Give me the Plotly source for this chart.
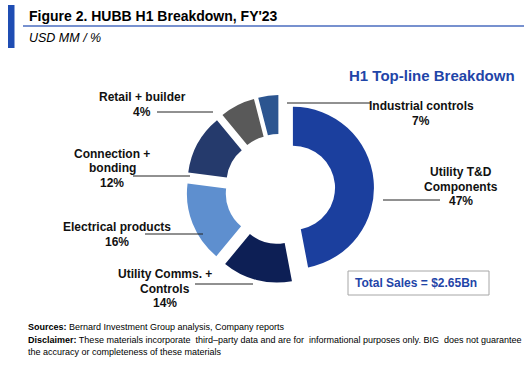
import plotly.graph_objects as go

W, H = 524, 367

# ---------------- data ----------------
categories = ["Utility T&D Components", "Utility Comms. + Controls", "Electrical products",
              "Connection + bonding", "Industrial controls", "Retail + builder"]
shares = [47, 14, 16, 12, 7, 4]
label_lines = {
    "Utility T&D Components": ["Utility T&D", "Components"],
    "Utility Comms. + Controls": ["Utility Comms. +", "Controls"],
    "Electrical products": ["Electrical products"],
    "Connection + bonding": ["Connection +", "bonding"],
    "Industrial controls": ["Industrial controls"],
    "Retail + builder": ["Retail + builder"],
}
total_sales_text = "Total Sales = $2.65Bn"

# ---------------- styles ----------------
colors = ["#1b3f9e", "#0d1f55", "#5e8fcf", "#253a6c", "#595959", "#2c5590"]
FONT = "Arial, Liberation Sans, sans-serif"
BLUE_TXT = "#1f45a8"

# label placement (pixel coords: centre x, first line y) and leader lines (x0, x1, y)
label_pos = {
    "Utility T&D Components": (461, 172),
    "Utility Comms. + Controls": (165, 274),
    "Electrical products": (117, 227),
    "Connection + bonding": (112, 154),
    "Industrial controls": (421, 106),
    "Retail + builder": (142, 97),
}
leader = {
    "Utility T&D Components": (383, 440, 200),
    "Utility Comms. + Controls": (195, 253, 284),
    "Electrical products": (145, 203, 234),
    "Connection + bonding": (133, 190, 176),
    "Industrial controls": (287, 370, 103),
    "Retail + builder": (157, 213, 112),
}
LINE_H = 14.5


def px(x):
    return x / W


def py(y):
    return 1 - y / H


# pie geometry (pixels)
cx, cy, half = 280, 189, 94

fig = go.Figure()
fig.add_trace(go.Pie(
    labels=categories,
    values=shares,
    sort=False,
    direction="clockwise",
    rotation=0,
    hole=0.52,
    pull=[0.16] * len(shares),
    marker=dict(colors=colors, line=dict(width=0)),
    textinfo="none",
    hoverinfo="label+percent",
    showlegend=False,
    domain=dict(x=[px(cx - half), px(cx + half)], y=[py(cy + half), py(cy - half)]),
))

annotations = []
shapes = []

for cat, val in zip(categories, shares):
    lx, ly = label_pos[cat]
    lines = label_lines[cat] + [f"{val}%"]
    for i, t in enumerate(lines):
        annotations.append(dict(
            x=px(lx), y=py(ly + i * LINE_H), xref="paper", yref="paper",
            text=f"<b>{t}</b>", showarrow=False, xanchor="center", yanchor="middle",
            font=dict(family=FONT, size=12, color="#111111"),
        ))
    x0, x1, yy = leader[cat]
    shapes.append(dict(type="line", xref="paper", yref="paper",
                       x0=px(x0), x1=px(x1), y0=py(yy), y1=py(yy),
                       line=dict(color="#222222", width=1)))

# header
shapes.append(dict(type="rect", xref="paper", yref="paper",
                   x0=px(8), x1=px(14.5), y0=py(48), y1=py(5),
                   fillcolor="#1f4db3", line=dict(width=0)))
shapes.append(dict(type="line", xref="paper", yref="paper",
                   x0=px(23), x1=1, y0=py(26), y1=py(26),
                   line=dict(color="#4a6cbf", width=1.6)))
annotations.append(dict(x=px(27), y=py(16), xref="paper", yref="paper",
                        text="<b>Figure 2. HUBB H1 Breakdown, FY'23</b>", showarrow=False,
                        xanchor="left", yanchor="middle",
                        font=dict(family=FONT, size=14, color="#000000")))
annotations.append(dict(x=px(27), y=py(38), xref="paper", yref="paper",
                        text="<i>USD MM / %</i>", showarrow=False,
                        xanchor="left", yanchor="middle",
                        font=dict(family=FONT, size=12.5, color="#000000")))

# chart title
annotations.append(dict(x=px(517), y=py(75), xref="paper", yref="paper",
                        text="<b>H1 Top-line Breakdown</b>", showarrow=False,
                        xanchor="right", yanchor="middle",
                        font=dict(family=FONT, size=15, color=BLUE_TXT)))

# total sales box
shapes.append(dict(type="rect", xref="paper", yref="paper",
                   x0=px(348), x1=px(489), y0=py(295), y1=py(271),
                   fillcolor="white", line=dict(color="#a6a6a6", width=1)))
annotations.append(dict(x=px(416), y=py(283), xref="paper", yref="paper",
                        text=f"<b>{total_sales_text}</b>", showarrow=False,
                        xanchor="center", yanchor="middle",
                        font=dict(family=FONT, size=12, color=BLUE_TXT)))


# footer (the first disclaimer line is justified in the reference: widen some gaps)
def justify(words, extra):
    gaps = len(words) - 1
    extra_at = {int((k + 0.5) * gaps / extra) for k in range(extra)}
    out = words[0]
    for g, w in enumerate(words[1:]):
        out += ("\u00a0" if g in extra_at else "") + " " + w
    return out


disc_words = "These materials incorporate third\u2013party data and are for informational purposes only. BIG does not guarantee".split(" ")
disc_line1 = "<b>Disclaimer:</b> " + justify(disc_words, 3)

foot = [
    (327, "<b>Sources:</b> Bernard Investment Group analysis, Company reports"),
    (340, disc_line1),
    (352, "the accuracy or completeness of these materials"),
]
for yy, t in foot:
    annotations.append(dict(x=px(26), y=py(yy), xref="paper", yref="paper",
                            text=t, showarrow=False, xanchor="left", yanchor="middle",
                            font=dict(family=FONT, size=9, color="#000000")))

fig.update_layout(
    width=W, height=H,
    margin=dict(l=0, r=0, t=0, b=0),
    paper_bgcolor="white", plot_bgcolor="white",
    annotations=annotations, shapes=shapes,
    showlegend=False,
)

fig.write_html("out.html")
